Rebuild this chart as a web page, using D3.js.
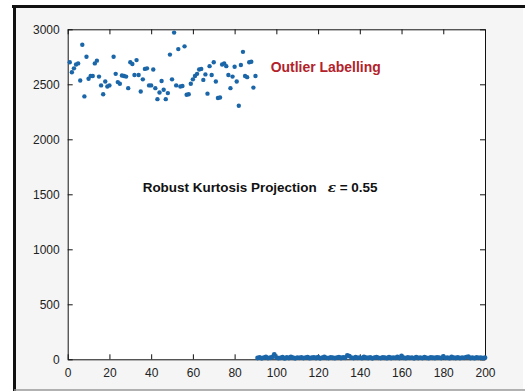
<!DOCTYPE html>
<html>
<head>
<meta charset="utf-8">
<script src="https://cdn.jsdelivr.net/npm/d3@7"></script>
<style>
  body { margin: 0; background: #fff; }
  text { font-family: "Liberation Sans", Arial, sans-serif; }
</style>
</head>
<body>
<script>
// outlier points (index, value)
var outlierX = [1,2,3,4,5,6,7,8,9,10,11,12,13,14,15,16,17,18,19,20,
  22,23,24,25,26,27,28,29,30,31,32,33,34,35,36,37,38,39,40,41,42,43,44,45,46,47,48,49,50,
  51,52,53,54,55,56,57,58,59,60,61,62,63,64,65,66,67,68,69,70,71,72,73,74,75,76,77,78,79,80,
  81,82,83,84,85,86,87,88,89,90];
var outlierY = [2700,2610,2645,2680,2690,2535,2860,2390,2750,2550,2575,2575,2690,2715,2570,2490,2410,2525,2480,2490,
  2750,2595,2520,2505,2580,2575,2570,2465,2700,2685,2585,2720,2585,2435,2545,2640,2645,2490,2490,2635,2465,2365,2425,2530,2450,2365,2420,2770,2545,
  2970,2490,2820,2480,2485,2845,2405,2410,2505,2545,2575,2595,2635,2640,2540,2590,2415,2665,2585,2700,2525,2375,2380,2680,2690,2665,2585,2465,2570,2660,
  2525,2305,2675,2795,2575,2565,2700,2705,2470,2575];

// inlier points, index 91..200
var inlierStart = 91;
var inlierY = [
  12,18,9,15,22,11,14,20,45,16,
  10,13,19,8,17,12,21,14,9,16,
  13,18,11,15,20,10,14,17,12,19,
  9,15,22,13,11,18,14,10,16,20,
  12,17,14,35,28,15,11,19,13,16,
  10,21,14,12,18,9,15,20,13,11,
  17,14,10,19,12,16,13,21,11,32,
  14,10,18,13,15,9,20,12,16,11,
  19,13,10,17,14,12,18,15,11,26,
  13,16,10,22,14,12,17,11,15,13,
  20,25,12,16,10,18,13,15,11,14];

var xTicks = [0,20,40,60,80,100,120,140,160,180,200];
var yTicks = [0,500,1000,1500,2000,2500,3000];

var W = 525, H = 391;
var axLeft = 67.7, axRight = 485, axTop = 29.3, axBottom = 359.3;

var svg = d3.select("body").append("svg")
  .attr("width", W).attr("height", H);

// figure background + frame
svg.append("rect").attr("x", 0).attr("y", 0).attr("width", W).attr("height", H).attr("fill", "#fff");
svg.append("rect").attr("x", 14).attr("y", 7).attr("width", 509).attr("height", 383)
  .attr("fill", "#f5f5f5");
svg.append("line").attr("x1", 12).attr("x2", W).attr("y1", 6.5).attr("y2", 6.5)
  .attr("stroke", "#111").attr("stroke-width", 3);
svg.append("line").attr("x1", 14.5).attr("x2", 14.5).attr("y1", 5).attr("y2", H)
  .attr("stroke", "#111").attr("stroke-width", 3);
svg.append("line").attr("x1", 14).attr("x2", W).attr("y1", 390).attr("y2", 390)
  .attr("stroke", "#999").attr("stroke-width", 1.5);

var x = d3.scaleLinear().domain([0, 200]).range([axLeft, axRight]);
var y = d3.scaleLinear().domain([0, 3000]).range([axBottom, axTop]);

svg.append("rect").attr("x", axLeft).attr("y", axTop)
  .attr("width", axRight - axLeft).attr("height", axBottom - axTop).attr("fill", "#fff");

// axes, matlab style ticks pointing inward
var axB = svg.append("g").attr("transform", "translate(0," + axBottom + ")")
  .call(d3.axisBottom(x).tickValues(xTicks).tickSizeInner(-5).tickSizeOuter(0).tickPadding(9));
var axT = svg.append("g").attr("transform", "translate(0," + axTop + ")")
  .call(d3.axisTop(x).tickValues(xTicks).tickSizeInner(-5).tickSizeOuter(0).tickFormat(""));
var axL = svg.append("g").attr("transform", "translate(" + axLeft + ",0)")
  .call(d3.axisLeft(y).tickValues(yTicks).tickSizeInner(-5).tickSizeOuter(0).tickPadding(8).tickFormat(d3.format("d")));
var axR = svg.append("g").attr("transform", "translate(" + axRight + ",0)")
  .call(d3.axisRight(y).tickValues(yTicks).tickSizeInner(-5).tickSizeOuter(0).tickFormat(""));

[axB, axT, axL, axR].forEach(function(a) {
  a.select(".domain").attr("stroke", "#111");
  a.selectAll(".tick line").attr("stroke", "#111");
  a.selectAll("text").attr("font-size", 12).attr("fill", "#222")
    .style("font-family", "'Liberation Sans', Arial, sans-serif");
});

var col = "#1a66a8";

svg.append("g").selectAll("circle")
  .data(inlierY)
  .enter().append("circle")
  .attr("cx", function(d, i) { return x(inlierStart + i); })
  .attr("cy", function(d) { return y(d); })
  .attr("r", 2.4)
  .attr("fill", col);

svg.append("g").selectAll("circle")
  .data(outlierY)
  .enter().append("circle")
  .attr("cx", function(d, i) { return x(outlierX[i]); })
  .attr("cy", function(d) { return y(d); })
  .attr("r", 2.2)
  .attr("fill", col);

// annotations
svg.append("text").attr("x", 270.7).attr("y", 72)
  .attr("font-size", 14).attr("font-weight", "bold").attr("fill", "#b3222a")
  .attr("textLength", 110).attr("lengthAdjust", "spacingAndGlyphs")
  .text("Outlier Labelling");

svg.append("text").attr("x", 142.7).attr("y", 192)
  .attr("font-size", 13.5).attr("font-weight", "bold").attr("fill", "#111")
  .attr("textLength", 174).attr("lengthAdjust", "spacingAndGlyphs")
  .text("Robust  Kurtosis Projection");

var eps = svg.append("text").attr("x", 327.7).attr("y", 192)
  .attr("font-size", 13.5).attr("font-weight", "bold").attr("fill", "#111");
eps.append("tspan").attr("font-style", "italic").style("font-family", "'DejaVu Serif', serif").text("ε");
eps.append("tspan").text(" = 0.55");
</script>
</body>
</html>
